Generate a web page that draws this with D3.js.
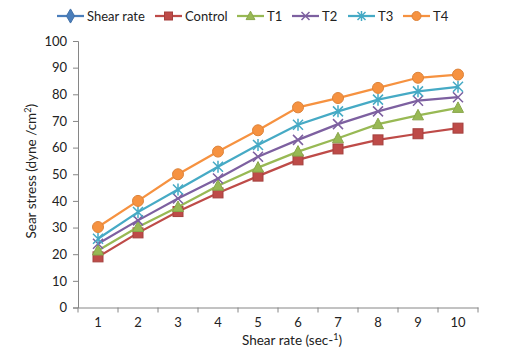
<!DOCTYPE html>
<html>
<head>
<meta charset="utf-8">
<script src="https://cdn.jsdelivr.net/npm/d3@7"></script>
<style>
  body { margin: 0; background: #fff; }
  svg text { font-family: Lato, "Open Sans", sans-serif; fill: #222; }
</style>
</head>
<body>
<div id="chart"></div>
<script>
// ========================
// Data
// ========================
const categories = ["1", "2", "3", "4", "5", "6", "7", "8", "9", "10"];
const yTicks = [0, 10, 20, 30, 40, 50, 60, 70, 80, 90, 100];

const control = [19, 28, 36, 43, 49.3, 55.4, 59.5, 62.9, 65.2, 67.3];
const t1 = [21.4, 30.2, 37.7, 45.7, 52.5, 58.5, 63.5, 68.8, 72.1, 74.9];
const t2 = [23.9, 32.7, 40.9, 48.4, 56.6, 62.9, 68.8, 73.6, 77.6, 78.9];
const t3 = [25.8, 35.8, 44.3, 52.8, 61, 68.6, 73.6, 78, 81.1, 82.8];
const t4 = [30.2, 40, 50, 58.5, 66.5, 75.1, 78.6, 82.4, 86.2, 87.4];
// "Shear rate" only appears in the legend, no points plotted
const shearRate = [];

const series = [
    { name: "Shear rate", values: shearRate, color: "#4A7EBB", symbol: "diamond" },
    { name: "Control", values: control, color: "#BE4B48", symbol: "square" },
    { name: "T1", values: t1, color: "#98B954", symbol: "triangle" },
    { name: "T2", values: t2, color: "#7D60A0", symbol: "x" },
    { name: "T3", values: t3, color: "#46AAC5", symbol: "star" },
    { name: "T4", values: t4, color: "#F69240", symbol: "circle" }
];

// ========================
// Setup
// ========================
const width = 517, height = 355;
const margin = { top: 41, right: 39, bottom: 48, left: 78 };

const svg = d3.select("#chart").append("svg")
    .attr("width", width)
    .attr("height", height);

const x = d3.scaleBand()
    .domain(categories)
    .range([margin.left, width - margin.right]);

const y = d3.scaleLinear()
    .domain([0, 100])
    .range([height - margin.bottom + 0.5, margin.top]);

const axisColor = "#868686";

// ========================
// Axes
// ========================
const yAxis = svg.append("g")
    .attr("transform", `translate(${margin.left},0)`)
    .call(d3.axisLeft(y).tickValues(yTicks).tickSize(5).tickPadding(6));

const xAxis = svg.append("g")
    .attr("transform", `translate(0,${y(0)})`)
    .call(d3.axisBottom(x).tickSize(0).tickPadding(10));

[xAxis, yAxis].forEach(g => {
    g.select(".domain").attr("stroke", axisColor);
    g.selectAll(".tick line").attr("stroke", axisColor);
    g.selectAll(".tick text")
        .style("font-size", "13px")
        .style("font-family", "Lato, 'Open Sans', sans-serif")
        .attr("fill", "#222");
});

// category boundary ticks on the x axis
xAxis.selectAll(".bound")
    .data(categories.concat(["end"]))
    .enter()
    .append("line")
    .attr("class", "bound")
    .attr("x1", (d, i) => i < categories.length ? x(d) : x.range()[1])
    .attr("x2", (d, i) => i < categories.length ? x(d) : x.range()[1])
    .attr("y1", 0)
    .attr("y2", 5)
    .attr("stroke", axisColor);

// axis titles
const xTitle = svg.append("text")
    .attr("x", (x.range()[0] + x.range()[1]) / 2 + 14)
    .attr("y", height - 10)
    .attr("text-anchor", "middle")
    .style("font-size", "13.5px");
xTitle.append("tspan").text("Shear rate (sec-");
xTitle.append("tspan").attr("dy", -5).style("font-size", "9px").text("1");
xTitle.append("tspan").attr("dy", 5).text(")");

const yTitle = svg.append("text")
    .attr("transform", `translate(36,${(y(0) + y(100)) / 2 - 3}) rotate(-90)`)
    .attr("text-anchor", "middle")
    .style("font-size", "13.5px");
yTitle.append("tspan").text("Sear stress (dyne /cm");
yTitle.append("tspan").attr("dy", -5).style("font-size", "9px").text("2");
yTitle.append("tspan").attr("dy", 5).text(")");

// ========================
// Markers
// ========================
function drawMarker(g, symbol, color, size) {
    const s = size;
    if (symbol === "diamond") {
        g.append("path").attr("d", d3.symbol(d3.symbolDiamond, s * s * 0.9)())
            .attr("fill", color).attr("stroke", d3.color(color).darker(0.3));
    } else if (symbol === "square") {
        g.append("rect").attr("x", -s / 2).attr("y", -s / 2)
            .attr("width", s).attr("height", s)
            .attr("fill", color).attr("stroke", d3.color(color).darker(0.4));
    } else if (symbol === "triangle") {
        g.append("path").attr("d", `M0,${-s * 0.6}L${s * 0.55},${s * 0.45}L${-s * 0.55},${s * 0.45}Z`)
            .attr("fill", color).attr("stroke", d3.color(color).darker(0.3));
    } else if (symbol === "x") {
        const h = s / 2;
        g.append("path").attr("d", `M${-h},${-h}L${h},${h}M${-h},${h}L${h},${-h}`)
            .attr("stroke", color).attr("stroke-width", 1.5).attr("fill", "none");
    } else if (symbol === "star") {
        const h = s / 2;
        g.append("path").attr("d", `M${-h},${-h}L${h},${h}M${-h},${h}L${h},${-h}M0,${-h - 1}L0,${h + 1}`)
            .attr("stroke", color).attr("stroke-width", 1.5).attr("fill", "none");
    } else if (symbol === "circle") {
        g.append("circle").attr("r", s / 2 + 0.5)
            .attr("fill", color).attr("stroke", d3.color(color).darker(0.3));
    }
}

// ========================
// Lines + points
// ========================
const line = d3.line()
    .x((d, i) => x(categories[i]) + x.bandwidth() / 2)
    .y(d => y(d));

series.forEach(s => {
    if (!s.values.length) return;
    const g = svg.append("g");
    g.append("path")
        .datum(s.values)
        .attr("d", line)
        .attr("fill", "none")
        .attr("stroke", s.color)
        .attr("stroke-width", 2.25);
    s.values.forEach((v, i) => {
        const m = g.append("g")
            .attr("transform", `translate(${x(categories[i]) + x.bandwidth() / 2},${y(v)})`);
        drawMarker(m, s.symbol, s.color, 10);
    });
});

// ========================
// Legend
// ========================
const legendX = [57, 155, 237, 292, 348, 403];
const legend = svg.append("g").attr("transform", "translate(0,16)");
series.forEach((s, i) => {
    const row = legend.append("g").attr("transform", `translate(${legendX[i]},0)`);
    row.append("line")
        .attr("x1", 0).attr("x2", 27)
        .attr("y1", 0).attr("y2", 0)
        .attr("stroke", s.color)
        .attr("stroke-width", 2.25);
    const m = row.append("g").attr("transform", "translate(13.5,0)");
    drawMarker(m, s.symbol, s.color, 8);
    row.append("text")
        .attr("x", 30)
        .attr("y", 4.5)
        .style("font-size", "13px")
        .text(s.name);
});
</script>
</body>
</html>
